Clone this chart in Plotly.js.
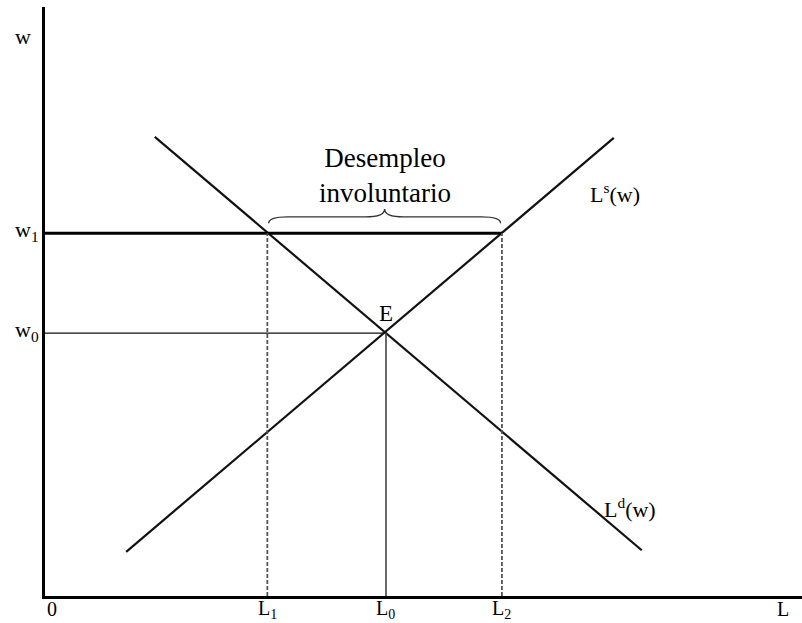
<!DOCTYPE html>
<html>
<head>
<meta charset="utf-8">
<script src="https://cdn.plot.ly/plotly-3.0.1.min.js"></script>
<style>html,body{margin:0;padding:0;background:#fff;}#chart{width:802px;height:623px;}</style>
</head>
<body>
<div id="chart"></div>
<script>
// Values (arbitrary units: L horizontal, w vertical)
const labourLevels = {L1: 3.26, L0: 5.0, L2: 6.70};
const wageLevels = {w0: 5.0, w1: 6.90};
const demandL = [1.61, 8.75];
const demandW = [8.73, 0.87];
const supplyL = [1.19, 8.34];
const supplyW = [0.84, 8.71];
const xTickLabels = ['0', 'L<sub>1</sub>', 'L<sub>0</sub>', 'L<sub>2</sub>', 'L'];
const yTickLabels = ['w<sub>0</sub>', 'w<sub>1</sub>', 'w'];
const xMax = 11.1, yMax = 11.2;

const L1 = labourLevels.L1, L0 = labourLevels.L0, L2 = labourLevels.L2;
const w0 = wageLevels.w0, w1 = wageLevels.w1;
const serif = 'Liberation Serif, Times New Roman, serif';

const traces = [
  {x: demandL, y: demandW, mode: 'lines', line: {color: '#111', width: 2.2}, hoverinfo: 'skip'},
  {x: supplyL, y: supplyW, mode: 'lines', line: {color: '#111', width: 2.2}, hoverinfo: 'skip'},
  {x: [0, L2], y: [w1, w1], mode: 'lines', line: {color: '#000', width: 3}, hoverinfo: 'skip'},
  {x: [0, L0], y: [w0, w0], mode: 'lines', line: {color: '#111', width: 1.2}, hoverinfo: 'skip'},
  {x: [L0, L0], y: [0, w0], mode: 'lines', line: {color: '#444', width: 1.6}, hoverinfo: 'skip'},
  {x: [L1, L1], y: [0, w1], mode: 'lines', line: {color: '#555', width: 1.8, dash: '4px,2px'}, hoverinfo: 'skip'},
  {x: [L2, L2], y: [0, w1], mode: 'lines', line: {color: '#555', width: 1.8, dash: '4px,2px'}, hoverinfo: 'skip'}
];

// curly brace above the unemployment gap
const Lm = (L1 + L2) / 2;
const b0 = w1 + 0.19, b1 = w1 + 0.31, b2 = w1 + 0.46;
const bracePath = `M ${L1+0.02} ${b0} Q ${L1+0.02} ${b1} ${L1+0.3} ${b1} L ${Lm-0.28} ${b1} Q ${Lm} ${b1} ${Lm} ${b2} Q ${Lm} ${b1} ${Lm+0.28} ${b1} L ${L2-0.3} ${b1} Q ${L2-0.02} ${b1} ${L2-0.02} ${b0}`;

const lblFont = {family: serif, size: 22, color: '#000'};
const annotations = [];
const xPos = [0, L1, L0, L2, 10.82];
xTickLabels.forEach((t, i) => annotations.push({x: xPos[i], y: 0, xref: 'x', yref: 'y', text: t, showarrow: false,
  xanchor: 'center', yanchor: 'middle', yshift: -13, xshift: i === 0 ? 7 : 0, font: {family: serif, size: 20, color: '#000'}}));
const yPos = [w0, w1, 10.6];
yTickLabels.forEach((t, i) => annotations.push({x: 0, y: yPos[i], xref: 'x', yref: 'y', text: t, showarrow: false,
  xanchor: 'right', yanchor: 'middle', xshift: i === 2 ? -12 : -4, yshift: 2, font: lblFont}));
annotations.push({x: L0, y: w0, text: 'E', showarrow: false, xanchor: 'center', yanchor: 'bottom', yshift: 5, font: {family: serif, size: 23, color: '#000'}});
annotations.push({x: 7.96, y: 7.66, text: 'L<sup>s</sup>(w)', showarrow: false, xanchor: 'left', yanchor: 'middle', font: lblFont});
annotations.push({x: 8.17, y: 1.67, text: 'L<sup>d</sup>(w)', showarrow: false, xanchor: 'left', yanchor: 'middle', font: lblFont});
annotations.push({x: Lm, y: 8.0, text: 'Desempleo<br>involuntario', showarrow: false, xanchor: 'center', yanchor: 'middle', font: {family: serif, size: 27, color: '#000'}});

const layout = {
  width: 802, height: 623,
  margin: {l: 45, r: 0, t: 7, b: 27},
  paper_bgcolor: '#fff', plot_bgcolor: '#fff',
  showlegend: false,
  xaxis: {range: [0, xMax], showgrid: false, zeroline: false, showticklabels: false, ticks: '',
          showline: true, linecolor: '#000', linewidth: 3, fixedrange: true},
  yaxis: {range: [0, yMax], showgrid: false, zeroline: false, showticklabels: false, ticks: '',
          showline: true, linecolor: '#000', linewidth: 3, fixedrange: true},
  shapes: [{type: 'path', path: bracePath, xref: 'x', yref: 'y', line: {color: '#333', width: 1.4}}],
  annotations: annotations
};

Plotly.newPlot('chart', traces, layout, {displayModeBar: false, staticPlot: true});
</script>
</body>
</html>
